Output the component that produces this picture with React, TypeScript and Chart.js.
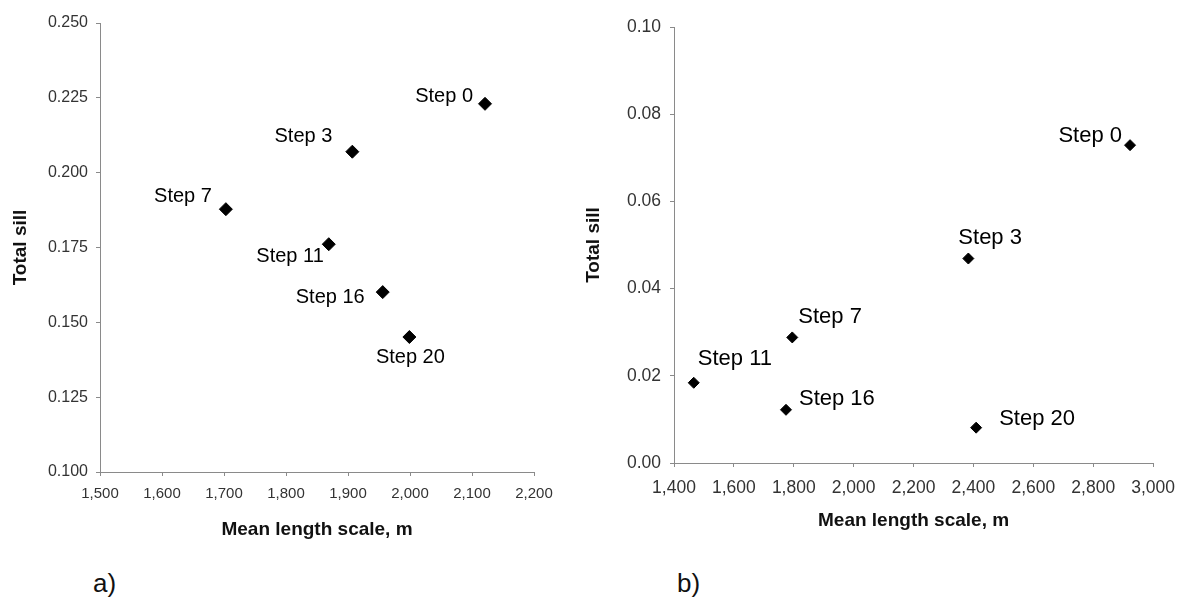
import React, { useEffect, useRef } from 'react';
import { Chart, registerables } from 'chart.js';

Chart.register(...registerables);

// ---------- data ----------
const stepLabels = ['Step 0', 'Step 3', 'Step 7', 'Step 11', 'Step 16', 'Step 20'];

// panel a)
const lengthScaleA = [2121, 1907, 1703, 1869, 1956, 1999];
const totalSillA = [0.223, 0.207, 0.1878, 0.1761, 0.1601, 0.1451];
const xTicksA = [1500, 1600, 1700, 1800, 1900, 2000, 2100, 2200];
const yTicksA = [0.1, 0.125, 0.15, 0.175, 0.2, 0.225, 0.25];

// panel b)
const lengthScaleB = [2923, 2383, 1795, 1466, 1774, 2409];
const totalSillB = [0.0729, 0.0469, 0.0288, 0.0184, 0.0122, 0.0081];
const xTicksB = [1400, 1600, 1800, 2000, 2200, 2400, 2600, 2800, 3000];
const yTicksB = [0, 0.02, 0.04, 0.06, 0.08, 0.1];

const xTitle = 'Mean length scale, m';
const yTitle = 'Total sill';

// label placement relative to each point: [dx, dy, textAlign]
const labelPlaceA: [number, number, CanvasTextAlign][] = [
  [-12, -7, 'right'],
  [-20, -15, 'right'],
  [-14, -13, 'right'],
  [-5, 12, 'right'],
  [-18, 5, 'right'],
  [1, 20, 'center'],
];
const labelPlaceB: [number, number, CanvasTextAlign][] = [
  [-8, -9, 'right'],
  [-10, -21, 'left'],
  [6, -20, 'left'],
  [4, -24, 'left'],
  [13, -11, 'left'],
  [23, -9, 'left'],
];

const FONT = '"Liberation Sans", Arial, Helvetica, sans-serif';
const AXIS_GRAY = '#8a8a8a';

type PanelSpec = {
  xs: number[];
  ys: number[];
  xTicks: number[];
  yTicks: number[];
  yDecimals: number;
  place: [number, number, CanvasTextAlign][];
  labelSize: number;
  tickSizeX: number;
  tickSizeY: number;
  tickPadX: number;
  tickPadY: number;
  yAxisWidth: number;
  xAxisHeight: number;
  padTop: number;
  padRight: number;
  xTitlePad: number;
  yTitlePad: number;
  radius: number;
  width: number;
  height: number;
  left: number;
};

function makeLabelPlugin(place: [number, number, CanvasTextAlign][], size: number) {
  return {
    id: 'stepLabels',
    afterDatasetsDraw(chart: any) {
      const meta = chart.getDatasetMeta(0);
      const ctx: CanvasRenderingContext2D = chart.ctx;
      ctx.save();
      ctx.font = `${size}px ${FONT}`;
      ctx.fillStyle = '#000';
      ctx.textBaseline = 'middle';
      meta.data.forEach((pt: any, i: number) => {
        const [dx, dy, align] = place[i];
        ctx.textAlign = align;
        ctx.fillText(stepLabels[i], pt.x + dx, pt.y + dy);
      });
      ctx.restore();
    },
  };
}

function Panel({ spec }: { spec: PanelSpec }) {
  const ref = useRef<HTMLCanvasElement | null>(null);
  useEffect(() => {
    if (!ref.current) return;
    const s = spec;
    const chart = new Chart(ref.current, {
      type: 'scatter',
      data: {
        datasets: [
          {
            data: s.xs.map((x, i) => ({ x, y: s.ys[i] })),
            pointStyle: 'rectRot',
            pointRadius: s.radius,
            pointBackgroundColor: '#000',
            pointBorderColor: '#000',
            pointBorderWidth: 1,
            showLine: false,
          },
        ],
      },
      options: {
        animation: false,
        responsive: false,
        events: [],
        layout: { padding: { left: 0, top: s.padTop, right: s.padRight, bottom: 0 } },
        plugins: { legend: { display: false }, tooltip: { enabled: false }, title: { display: false } },
        scales: {
          x: {
            type: 'linear',
            min: s.xTicks[0],
            max: s.xTicks[s.xTicks.length - 1],
            afterBuildTicks: (scale: any) => {
              scale.ticks = s.xTicks.map((v) => ({ value: v }));
            },
            afterFit: (scale: any) => {
              scale.height = s.xAxisHeight;
            },
            border: { display: true, color: AXIS_GRAY, width: 1 },
            grid: { display: true, drawOnChartArea: false, drawTicks: true, tickLength: 4, tickColor: AXIS_GRAY },
            ticks: {
              maxRotation: 0,
              autoSkip: false,
              padding: s.tickPadX,
              color: '#333',
              font: { family: FONT, size: s.tickSizeX },
              callback: (v: any) => Number(v).toLocaleString('en-US'),
            },
            title: {
              display: true,
              text: xTitle,
              color: '#111',
              font: { family: FONT, size: 19, weight: 'bold' },
              padding: { top: s.xTitlePad, bottom: s.xTitlePad },
            },
          },
          y: {
            type: 'linear',
            min: s.yTicks[0],
            max: s.yTicks[s.yTicks.length - 1],
            afterBuildTicks: (scale: any) => {
              scale.ticks = s.yTicks.map((v) => ({ value: v }));
            },
            afterFit: (scale: any) => {
              scale.width = s.yAxisWidth;
            },
            border: { display: true, color: AXIS_GRAY, width: 1 },
            grid: { display: true, drawOnChartArea: false, drawTicks: true, tickLength: 4, tickColor: AXIS_GRAY },
            ticks: {
              autoSkip: false,
              padding: s.tickPadY,
              color: '#333',
              font: { family: FONT, size: s.tickSizeY },
              callback: (v: any) => Number(v).toFixed(s.yDecimals),
            },
            title: {
              display: true,
              text: yTitle,
              color: '#111',
              font: { family: FONT, size: 19, weight: 'bold' },
              padding: { top: s.yTitlePad, bottom: s.yTitlePad },
            },
          },
        },
      },
      plugins: [makeLabelPlugin(s.place, s.labelSize)],
    } as any);
    return () => chart.destroy();
  }, [spec]);
  return (
    <canvas
      ref={ref}
      width={spec.width}
      height={spec.height}
      style={{ position: 'absolute', left: spec.left, top: 0, width: spec.width, height: spec.height }}
    />
  );
}

const specA: PanelSpec = {
  xs: lengthScaleA,
  ys: totalSillA,
  xTicks: xTicksA,
  yTicks: yTicksA,
  yDecimals: 3,
  place: labelPlaceA,
  labelSize: 20,
  tickSizeX: 15,
  tickSizeY: 16,
  tickPadX: 9,
  tickPadY: 8,
  yAxisWidth: 100,
  xAxisHeight: 88,
  padTop: 23,
  padRight: 46,
  xTitlePad: 19,
  yTitlePad: 9,
  radius: 6.5,
  width: 580,
  height: 560,
  left: 0,
};

const specB: PanelSpec = {
  xs: lengthScaleB,
  ys: totalSillB,
  xTicks: xTicksB,
  yTicks: yTicksB,
  yDecimals: 2,
  place: labelPlaceB,
  labelSize: 22,
  tickSizeX: 17.5,
  tickSizeY: 17.5,
  tickPadX: 11,
  tickPadY: 9,
  yAxisWidth: 94,
  xAxisHeight: 97,
  padTop: 27,
  padRight: 30,
  xTitlePad: 28,
  yTitlePad: 2,
  radius: 5.5,
  width: 606,
  height: 560,
  left: 580,
};

const panelTag: React.CSSProperties = {
  position: 'absolute',
  top: 570,
  fontFamily: FONT,
  fontSize: 26,
  lineHeight: '26px',
  color: '#111',
};

export default function App() {
  return (
    <div style={{ position: 'absolute', left: 0, top: 0, width: 1186, height: 598, background: '#fff', overflow: 'hidden' }}>
      <Panel spec={specA} />
      <Panel spec={specB} />
      <div style={{ ...panelTag, left: 93 }}>a)</div>
      <div style={{ ...panelTag, left: 677 }}>b)</div>
    </div>
  );
}
